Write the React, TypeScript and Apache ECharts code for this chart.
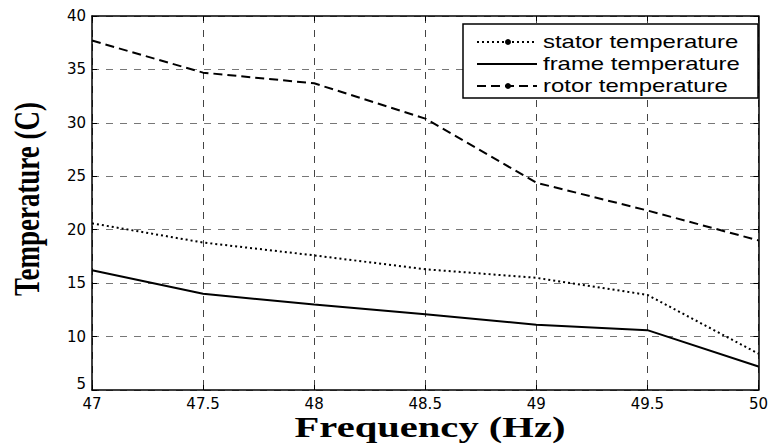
import React, { useEffect, useRef } from "react";
import * as echarts from "echarts";

const freq = [47, 47.5, 48, 48.5, 49, 49.5, 50];
const stator = [20.6, 18.8, 17.6, 16.3, 15.5, 13.9, 8.4];
const frame = [16.2, 14.0, 13.0, 12.1, 11.1, 10.6, 7.2];
const rotor = [37.7, 34.7, 33.7, 30.4, 24.4, 21.8, 19.0];
const seriesNames = ["stator temperature", "frame temperature", "rotor temperature"];
const xTitle = "Frequency (Hz)";
const yTitle = "Temperature (C)";

const pairs = (ys: number[]) => freq.map((x, i) => [x, ys[i]]);

export default function App() {
  const ref = useRef<HTMLDivElement>(null);
  useEffect(() => {
    if (!ref.current) return;
    const chart = echarts.init(ref.current, undefined, { renderer: "svg" });
    const dashes: any[] = [[2, 3], "solid", [9, 5]];
    const showDot = [true, false, true];
    const legendItems: any[] = [
      {
        type: "rect",
        shape: { x: 463, y: 24, width: 295, height: 74 },
        style: { fill: "#fff", stroke: "#000", lineWidth: 1.5 },
        z: 100,
      },
    ];
    seriesNames.forEach((name, i) => {
      const y = 42 + i * 22;
      legendItems.push({
        type: "line",
        z: 101,
        shape: { x1: 477, y1: y, x2: 537, y2: y },
        style: { stroke: "#000", lineWidth: 2, lineDash: dashes[i] === "solid" ? null : dashes[i] },
      });
      if (showDot[i]) {
        legendItems.push({ type: "circle", z: 102, shape: { cx: 508, cy: y, r: 3 }, style: { fill: "#000" } });
      }
      legendItems.push({
        type: "text",
        z: 101,
        x: 543,
        y: y,
        scaleX: 1.33,
        style: {
          text: name,
          font: "18px 'Liberation Sans', Arial, sans-serif",
          fill: "#000",
          verticalAlign: "middle",
          textAlign: "left",
        },
      });
    });
    const axisLabelStyle = { fontFamily: "'DejaVu Sans', sans-serif", fontSize: 15, color: "#000" };
    chart.setOption({
      animation: false,
      backgroundColor: "#fff",
      grid: { left: 92, top: 16, right: 5, bottom: 57 },
      xAxis: [
        {
          type: "value",
          min: 47,
          max: 50,
          interval: 0.5,
          axisLine: { show: true, onZero: false, lineStyle: { color: "#000", width: 1.5 } },
          axisTick: { show: true, inside: true, length: 5, lineStyle: { color: "#000" } },
          axisLabel: { ...axisLabelStyle, margin: 6 },
          splitLine: { show: true, lineStyle: { color: "#444", type: [7, 7], width: 1 } },
        },
        {
          type: "value",
          position: "top",
          min: 47,
          max: 50,
          interval: 0.5,
          axisLine: { show: true, onZero: false, lineStyle: { color: "#000", width: 1.5 } },
          axisTick: { show: true, inside: true, length: 5, lineStyle: { color: "#000" } },
          axisLabel: { show: false },
          splitLine: { show: false },
        },
      ],
      yAxis: [
        {
          type: "value",
          min: 5,
          max: 40,
          interval: 5,
          axisLine: { show: true, onZero: false, lineStyle: { color: "#000", width: 1.5 } },
          axisTick: { show: true, inside: true, length: 5, lineStyle: { color: "#000" } },
          axisLabel: {
            ...axisLabelStyle,
            margin: 6,
            formatter: (v: number) => (v === 5 ? "{low|5}" : String(v)),
            rich: { low: { ...axisLabelStyle, padding: [0, 0, 12, 0] } },
          },
          splitLine: { show: true, lineStyle: { color: "#777", type: [7, 7], width: 1 } },
        },
        {
          type: "value",
          position: "right",
          min: 5,
          max: 40,
          interval: 5,
          axisLine: { show: true, onZero: false, lineStyle: { color: "#000", width: 1.5 } },
          axisTick: { show: true, inside: true, length: 5, lineStyle: { color: "#000" } },
          axisLabel: { show: false },
          splitLine: { show: false },
        },
      ],
      series: [
        {
          name: seriesNames[0],
          type: "line",
          data: pairs(stator),
          showSymbol: false,
          lineStyle: { color: "#000", width: 2, type: [2, 3] },
        },
        {
          name: seriesNames[1],
          type: "line",
          data: pairs(frame),
          showSymbol: false,
          lineStyle: { color: "#000", width: 2, type: "solid" },
        },
        {
          name: seriesNames[2],
          type: "line",
          data: pairs(rotor),
          showSymbol: false,
          lineStyle: { color: "#000", width: 2, type: [9, 5] },
        },
      ],
      graphic: [
        ...legendItems,
        {
          type: "text",
          x: 430,
          y: 428,
          scaleX: 1.4,
          style: {
            text: xTitle,
            font: "bold 29px 'Liberation Serif', 'Times New Roman', serif",
            fill: "#000",
            textAlign: "center",
            verticalAlign: "middle",
          },
        },
        {
          type: "text",
          x: 27,
          y: 199,
          rotation: Math.PI / 2,
          scaleY: 1.3,
          style: {
            text: yTitle,
            font: "bold 27px 'Liberation Serif', 'Times New Roman', serif",
            fill: "#000",
            textAlign: "center",
            verticalAlign: "middle",
          },
        },
      ],
    });
    return () => chart.dispose();
  }, []);
  return <div ref={ref} style={{ width: 771, height: 447, position: "absolute", left: 0, top: 0 }} />;
}
